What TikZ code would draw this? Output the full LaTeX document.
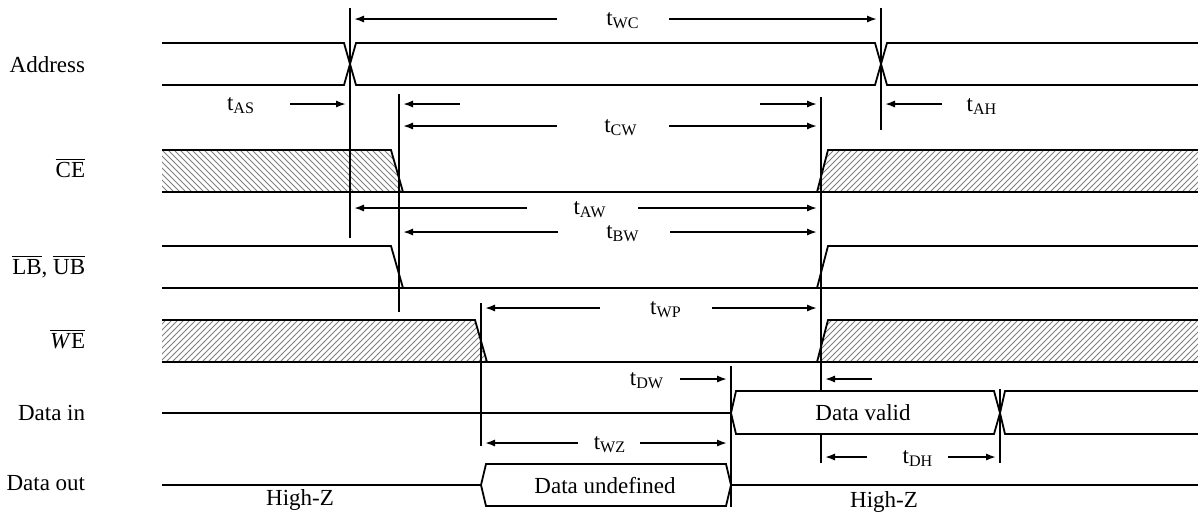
\documentclass[tikz,border=0pt]{standalone}
\usepackage{fontspec}
\setmainfont{Liberation Serif}
\usetikzlibrary{patterns,arrows.meta}

\begin{document}
\begin{tikzpicture}[x=0.5pt,y=-0.5pt,line width=0.9pt,
    font=\fontsize{11.5}{13}\selectfont,
    sigline/.style={line join=miter},
    vline/.style={line width=0.8pt},
    dimarr/.style={-{Latex[length=5pt,width=3.6pt]}},
    hatchL/.style={pattern=north west lines,pattern color=gray},
    hatchR/.style={pattern=north east lines,pattern color=gray},
    sname/.style={anchor=base east,inner sep=0pt},
    tname/.style={anchor=base}]
    \useasboundingbox (0,0) rectangle (1198,516);
    \node[sname] (addr) at (86,72) {Address};
    \node[sname] (ce) at (86,177) {$\overline{\mbox{CE}}$};
    \node[sname] (lbub) at (86,274) {$\overline{\mbox{LB}}$, $\overline{\mbox{UB}}$};
    \node[sname] (we) at (86,348) {$\overline{\mbox{\textit{W}E}}$};
    \node[sname] (din) at (86,420) {Data in};
    \node[sname] (dout) at (86,490) {Data out};
    % Address
    \draw[sigline] (162,43) -- (344,43) -- (356,85) -- (875,85) -- (887,43) -- (1198,43);
    \draw[sigline] (162,85) -- (344,85) -- (356,43) -- (875,43) -- (887,85) -- (1198,85);
    % CE
    \fill[hatchL] (162,150) -- (391,150) -- (403,192) -- (162,192) -- cycle;
    \fill[hatchR] (817,192) -- (828,150) -- (1198,150) -- (1198,192) -- cycle;
    \draw[sigline] (162,150) -- (391,150) -- (403,192);
    \draw[sigline] (817,192) -- (828,150) -- (1198,150);
    \draw (162,192) -- (1198,192);
    % LB, UB
    \draw[sigline] (162,246) -- (391,246) -- (403,288);
    \draw[sigline] (817,288) -- (828,246) -- (1198,246);
    \draw (162,288) -- (1198,288);
    % WE
    \fill[hatchR] (162,320) -- (475,320) -- (487,362) -- (162,362) -- cycle;
    \fill[hatchR] (817,362) -- (828,320) -- (1198,320) -- (1198,362) -- cycle;
    \draw[sigline] (162,320) -- (475,320) -- (487,362);
    \draw[sigline] (817,362) -- (828,320) -- (1198,320);
    \draw (162,362) -- (1198,362);
    % Data in
    \draw (162,413) -- (731,413);
    \draw[sigline] (731,413) -- (736,391) -- (994,391) -- (1000,413) -- (994,434) -- (736,434) -- cycle;
    \draw[sigline] (1000,413) -- (1005,391) -- (1198,391);
    \draw[sigline] (1000,413) -- (1005,434) -- (1198,434);
    \node (dvalid) at (863,413) {Data valid};
    % Data out
    \draw (162,485) -- (481,485);
    \draw[sigline] (481,485) -- (486,464) -- (726,464) -- (731,485) -- (726,506) -- (486,506) -- cycle;
    \draw (731,485) -- (1198,485);
    \node (dundef) at (605,485) {Data undefined};
    \node[tname] (hz1) at (300,505) {High-Z};
    \node[tname] (hz2) at (884,507) {High-Z};
    % markers
    \draw[vline] (350,8) -- (350,238);
    \draw[vline] (881,8) -- (881,130);
    \draw[vline] (399,94) -- (399,312);
    \draw[vline] (821,97) -- (821,391);
    \draw[vline] (821,434) -- (821,463);
    \draw[vline] (481,303) -- (481,446);
    \draw[vline] (731,366) -- (731,507);
    \draw[vline] (1000,389) -- (1000,463);
    % timings
    \node[tname] (twc) at (623,25) {t\textsubscript{WC}};
    \draw[dimarr] (557,19) -- (354,19);
    \draw[dimarr] (669,19) -- (877,19);
    \node[tname] (tas) at (241,110) {t\textsubscript{AS}};
    \draw[dimarr] (290,104) -- (346,104);
    \node[tname] (tah) at (982,111) {t\textsubscript{AH}};
    \draw[dimarr] (942,104) -- (885,104);
    \draw[dimarr] (460,104) -- (403,104);
    \draw[dimarr] (760,104) -- (817,104);
    \node[tname] (tcw) at (621,132) {t\textsubscript{CW}};
    \draw[dimarr] (557,126) -- (403,126);
    \draw[dimarr] (669,126) -- (817,126);
    \node[tname] (taw) at (590,214) {t\textsubscript{AW}};
    \draw[dimarr] (527,208) -- (354,208);
    \draw[dimarr] (638,208) -- (817,208);
    \node[tname] (tbw) at (623,238) {t\textsubscript{BW}};
    \draw[dimarr] (558,232) -- (403,232);
    \draw[dimarr] (670,232) -- (817,232);
    \node[tname] (twp) at (666,314) {t\textsubscript{WP}};
    \draw[dimarr] (600,308) -- (485,308);
    \draw[dimarr] (712,308) -- (817,308);
    \node[tname] (tdw) at (647,385) {t\textsubscript{DW}};
    \draw[dimarr] (680,379) -- (727,379);
    \draw[dimarr] (872,379) -- (825,379);
    \node[tname] (twz) at (610,449) {t\textsubscript{WZ}};
    \draw[dimarr] (578,443) -- (485,443);
    \draw[dimarr] (640,443) -- (727,443);
    \node[tname] (tdh) at (918,463) {t\textsubscript{DH}};
    \draw[dimarr] (867,457) -- (825,457);
    \draw[dimarr] (948,457) -- (996,457);
\end{tikzpicture}
\end{document}
